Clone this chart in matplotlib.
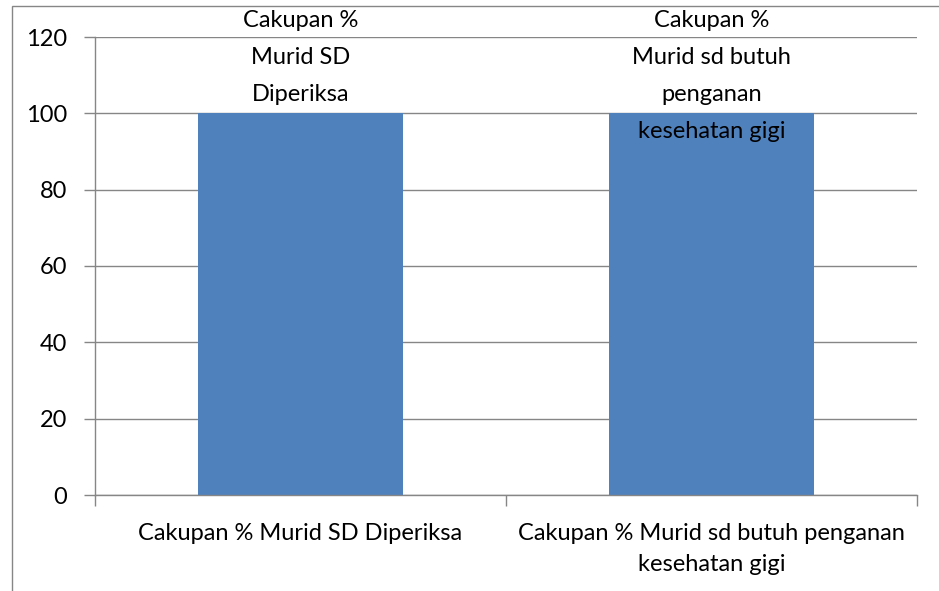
import matplotlib
matplotlib.use('Agg')
import matplotlib.pyplot as plt
import matplotlib.transforms as mtransforms
from matplotlib.patches import Rectangle

categories = ['Cakupan % Murid SD Diperiksa',
              'Cakupan % Murid sd butuh penganan\nkesehatan gigi']
data_labels = ['Cakupan %\nMurid SD\nDiperiksa',
               'Cakupan %\nMurid sd butuh\npenganan\nkesehatan gigi']
values = [100, 100]
y_ticks = [0, 20, 40, 60, 80, 100, 120]

BAR_COLOR = '#4F81BD'
GRID_COLOR = '#868686'
FONT = 'Lato'
FS = 17

plt.rcParams['font.family'] = [FONT, 'DejaVu Sans']

W, H = 939, 591
fig = plt.figure(figsize=(W / 100, H / 100), dpi=100)
ax = fig.add_axes([95 / W, 1 - 495 / H, (917 - 95) / W, (495 - 37) / H])

x = list(range(len(categories)))
ax.bar(x, values, width=0.5, color=BAR_COLOR, zorder=2)
ax.set_xlim(-0.5, len(categories) - 0.5)
ax.set_ylim(0, 120)
ax.set_yticks(y_ticks)
ax.set_yticklabels([str(t) for t in y_ticks], fontsize=FS)
ax.yaxis.grid(True, color=GRID_COLOR, linewidth=1.0, zorder=1)
ax.set_axisbelow(True)

# category ticks sit between groups, labels at the centres
ax.set_xticks([-0.5 + i for i in range(len(categories) + 1)])
ax.set_xticklabels([])
ax.set_xticks(x, minor=True)
ax.set_xticklabels(categories, minor=True, fontsize=FS, linespacing=1.6)
ax.tick_params(axis='x', which='minor', length=0, pad=20)
ax.tick_params(axis='x', which='major', length=8, color=GRID_COLOR, width=1)
ax.tick_params(axis='y', length=8, color=GRID_COLOR, width=1, pad=12)

for side in ['top', 'right']:
    ax.spines[side].set_visible(False)
for side in ['left', 'bottom']:
    ax.spines[side].set_color(GRID_COLOR)
    ax.spines[side].set_linewidth(1.0)

# data labels, clamped to the top of the chart area like Excel does
trans = mtransforms.blended_transform_factory(ax.transData, fig.transFigure)
for xi, lab in zip(x, data_labels):
    ax.text(xi, 1 - 10 / H, lab, transform=trans, ha='center', va='top',
            fontsize=FS, linespacing=1.95, zorder=3)

# outer chart border (extends past the image edges)
fig.patches.append(Rectangle((12 / W, -0.05), 1.1, 1 - 6 / H + 0.05,
                             transform=fig.transFigure, fill=False,
                             edgecolor=GRID_COLOR, linewidth=1.0))

fig.savefig('out.png', dpi=100)
